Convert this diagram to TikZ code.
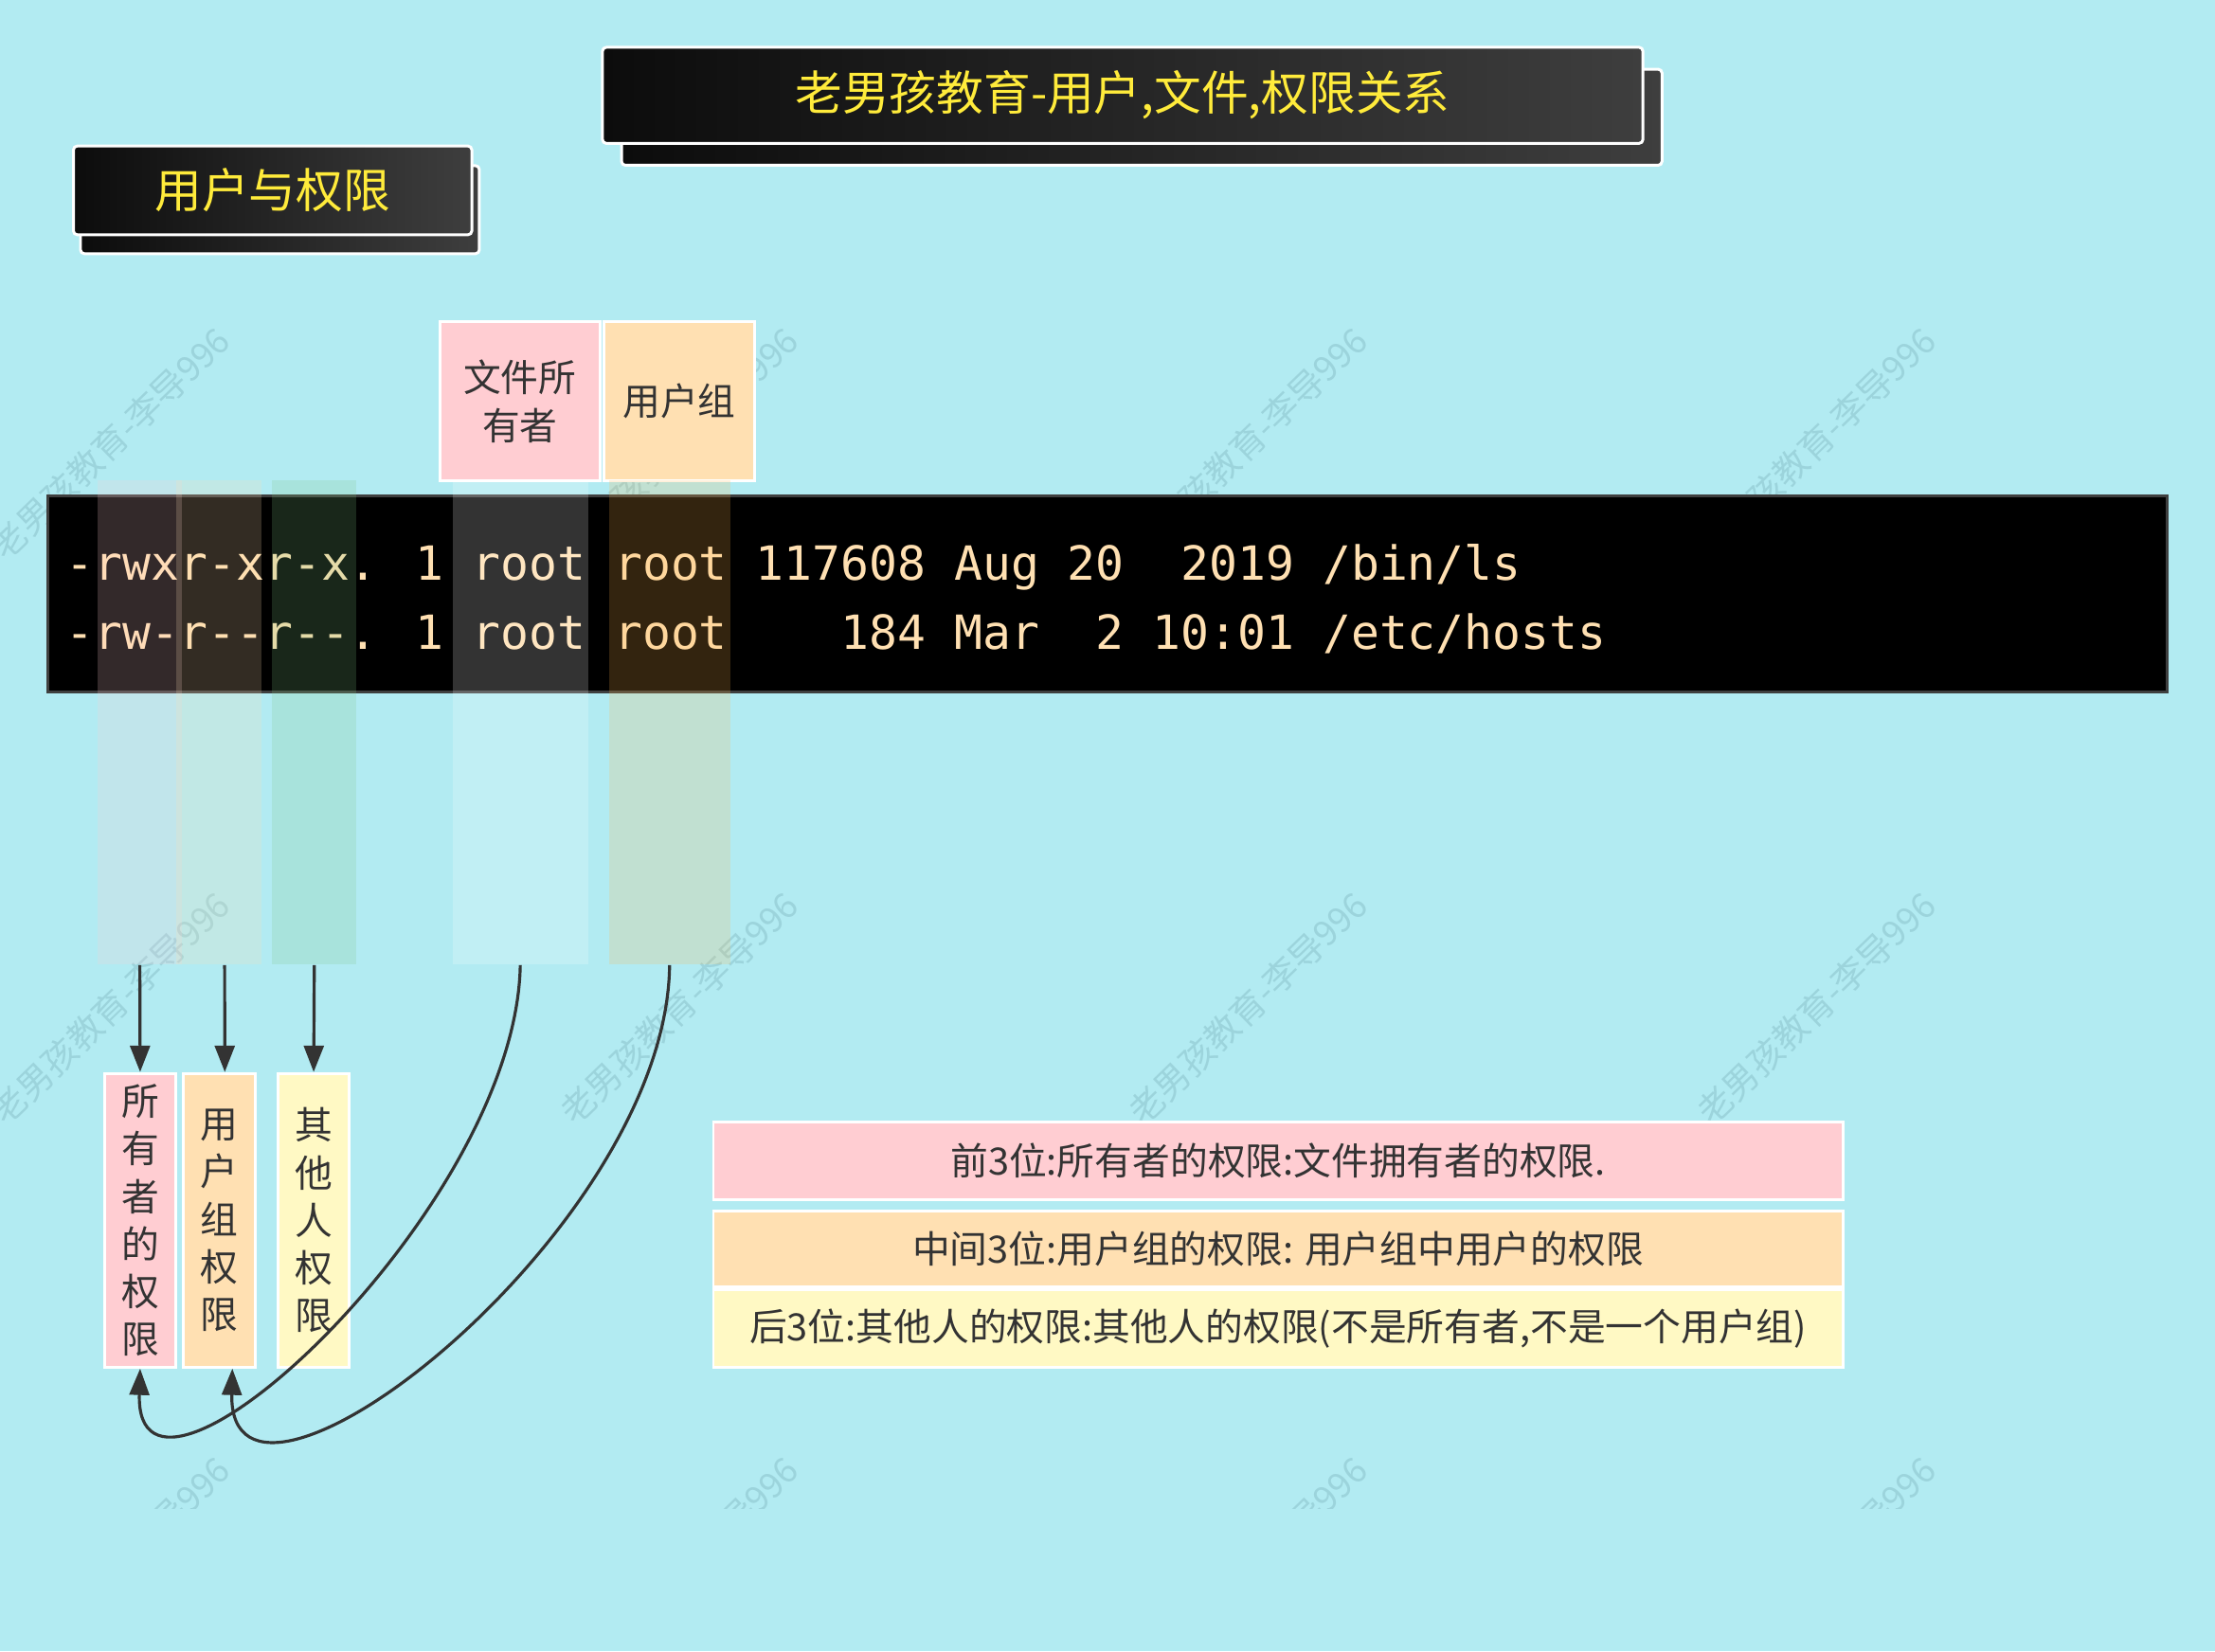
\documentclass[tikz,border=0pt]{standalone}
\usepackage{fontspec}
\usetikzlibrary{arrows.meta,calc}
\newfontfamily\cjk{Noto Sans CJK SC}
\newfontfamily\monofnt[Ligatures=TeXOff]{DejaVu Sans Mono}
\definecolor{bg}{HTML}{B2EBF2}
\definecolor{pinkc}{HTML}{FFCDD2}
\definecolor{orangec}{HTML}{FFE0B2}
\definecolor{yellowc}{HTML}{FFF9C4}
\definecolor{greenc}{HTML}{81C784}
\definecolor{amberc}{HTML}{FFB74D}
\definecolor{ink}{HTML}{333333}
\definecolor{titleyellow}{HTML}{FFEB3B}
\definecolor{wmc}{RGB}{156,212,220}
\definecolor{darkL}{RGB}{12,12,12}
\definecolor{darkR}{RGB}{62,62,62}
\definecolor{termtext}{HTML}{FFE0B2}
\definecolor{termborder}{HTML}{3F3F3F}
\newcommand\pxu{0.75pt}
\begin{document}
\begin{tikzpicture}[x=0.75pt,y=-0.75pt,
  box/.style={draw=white, line width=1.5pt, inner sep=0pt, text=ink,
    font=\cjk\fontsize{20}{26}\selectfont, align=center},
  vbox/.style={box, font=\cjk\fontsize{20}{25.3}\selectfont},
  darkbox/.style={draw=white, line width=1.5pt, rounded corners=2pt,
    left color=darkL, right color=darkR, inner sep=0pt,
    text=titleyellow, font=\cjk\fontsize{25}{25}\selectfont},
  colband/.style={fill opacity=0.2, inner sep=0pt, draw=none, minimum height=343*\pxu},
  arr/.style={draw=ink, line width=1.6pt, -{Triangle[length=14pt,width=10.5pt]}},
  wm/.style={text=wmc, font=\cjk\fontsize{18.5}{18.5}\selectfont, anchor=base west, rotate=44, inner sep=0pt},
  termbox/.style={fill=black, draw=termborder, line width=1.5pt, inner sep=0pt},
  termtxt/.style={text=termtext, font=\monofnt\fontsize{25}{25}\selectfont, anchor=base west, inner sep=0pt}
]
\useasboundingbox (0,0) rectangle (1568,1169);
\fill[bg] (0,0) rectangle (1568,1169);

% watermarks
\begin{scope}
\clip (0,0) rectangle (1568,1068);
\foreach \wx in {4.5,407,809.5,1212}{
  \foreach \wy in {398,798,1198}{
    \node[wm] at (\wx,\wy) {老男孩教育-李导996};
  }
}
\end{scope}

% title boxes
\node[darkbox, minimum width=736.5*\pxu, minimum height=68*\pxu] (tshadow) at (808.25,83) {};
\node[darkbox, minimum width=736.5*\pxu, minimum height=68*\pxu] (title) at (794.75,67.5) {老男孩教育-用户,文件,权限关系};
\node[darkbox, minimum width=282.3*\pxu, minimum height=62.3*\pxu] (sshadow) at (198.15,148.45) {};
\node[darkbox, minimum width=282*\pxu, minimum height=62.8*\pxu] (subtitle) at (193,134.8) {用户与权限};

% header boxes
\node[box, fill=pinkc, minimum width=113.6*\pxu, minimum height=112.5*\pxu] (owner) at (368.1,284.15) {文件所\\有者};
\node[box, fill=orangec, minimum width=107.1*\pxu, minimum height=112.5*\pxu] (group) at (480.85,284.15) {用户组};

% terminal
\node[termbox, minimum width=1500*\pxu, minimum height=139*\pxu] (term) at (784,420.5) {};
\node[termtxt] (line1) at (46.5,410.7) {-rwxr-xr-x. 1 root root 117608 Aug 20~~2019 /bin/ls};
\node[termtxt] (line2) at (46.5,459.9) {-rw-r--r--. 1 root root~~~~184 Mar~~2 10:01 /etc/hosts};

% column bands
\node[colband, fill=pinkc, minimum width=60*\pxu] (c1) at (99,511.5) {};
\node[colband, fill=orangec, minimum width=60*\pxu] (c2) at (155,511.5) {};
\node[colband, fill=greenc, minimum width=60*\pxu] (c3) at (222.5,511.5) {};
\node[colband, fill=white, minimum width=95.8*\pxu] (c4) at (368.3,511.5) {};
\node[colband, fill=amberc, minimum width=85.5*\pxu] (c5) at (474,511.5) {};

% vertical boxes
\node[vbox, fill=pinkc, minimum width=50.2*\pxu, minimum height=208*\pxu] (b1) at (99.2,864) {所\\有\\者\\的\\权\\限};
\node[vbox, fill=orangec, minimum width=51.1*\pxu, minimum height=208*\pxu] (b2) at (155.15,864) {用\\户\\组\\权\\限};
\node[vbox, fill=yellowc, minimum width=50.3*\pxu, minimum height=208*\pxu] (b3) at (222.05,864) {其\\他\\人\\权\\限};

% explanation boxes
\node[box, fill=pinkc, minimum width=799.5*\pxu, minimum height=54.5*\pxu] (ra) at (904.75,821.95) {前3位:所有者的权限:文件拥有者的权限.};
\node[box, fill=orangec, minimum width=799.5*\pxu, minimum height=53.7*\pxu] (rb) at (904.75,884.15) {中间3位:用户组的权限: 用户组中用户的权限};
\node[box, fill=yellowc, minimum width=799.5*\pxu, minimum height=55*\pxu] (rc) at (904.75,940.5) {后3位:其他人的权限:其他人的权限(不是所有者,不是一个用户组)};

% arrows
\draw[arr] (c1.south) -- (b1.north);
\draw[arr] ([xshift=3pt]c2.south) -- ([xshift=3pt]b2.north);
\draw[arr] (c3.south) -- (b3.north);
\draw[arr] (c4.south) .. controls +(-3,175) and +(-4,135) .. (b1.south);
\draw[arr] (c5.south) .. controls +(-2,190) and +(-3,142) .. ([xshift=7pt]b2.south);
\end{tikzpicture}
\end{document}
